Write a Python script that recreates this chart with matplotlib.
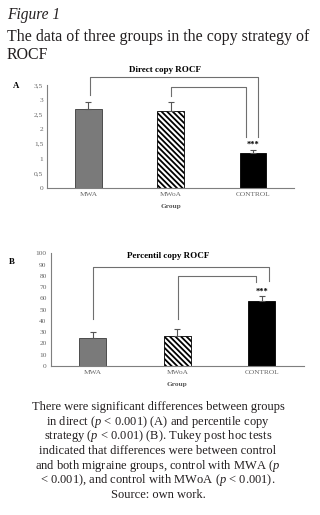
import matplotlib
matplotlib.use("Agg")
import matplotlib.pyplot as plt

groups = ["MWA", "MWoA", "CONTROL"]
direct_means = [2.70, 2.60, 1.20]
direct_err = [0.22, 0.31, 0.08]
perc_means = [25.2, 26.3, 58.0]
perc_err = [4.8, 6.3, 4.5]

y_ticks_a = [0, 0.5, 1, 1.5, 2, 2.5, 3, 3.5]
y_ticks_b = [0, 10, 20, 30, 40, 50, 60, 70, 80, 90, 100]

# brackets: (x_left, y_left_bottom, y_top, x_right, y_right_bottom)
brackets_a = [(0.02, 3.16, 3.77, 2.065, 1.74), (1.0, 3.13, 3.42, 1.915, 1.74)]
brackets_b = [(0.0, 41.7, 87.6, 2.09, 75.7), (1.01, 41.7, 79.9, 1.93, 74.3)]
star_a = 1.48
star_b = 65.5

SERIF = ["Liberation Serif", "DejaVu Serif"]
plt.rcParams["font.family"] = SERIF
plt.rcParams["mathtext.fontset"] = "custom"
plt.rcParams["mathtext.rm"] = "Liberation Serif"
plt.rcParams["mathtext.it"] = "Liberation Serif:italic"
plt.rcParams["hatch.linewidth"] = 1.3

fig = plt.figure(figsize=(3.2, 5.15), dpi=100)
W, H = 320, 515

def add_ax(x0, x1, ytop, ybot):
    return fig.add_axes([x0 / W, (H - ybot) / H, (x1 - x0) / W, (ybot - ytop) / H])

tick_col = "#595959"
colors = ["#7a7a7a", "white", "black"]
hatches = [None, "\\\\\\\\\\\\", None]

def draw(ax, means, errs, yt, ylim, fmt, brackets, star_y):
    x = list(range(len(groups)))
    for i in x:
        ax.bar(i, means[i], width=0.32, color=colors[i], edgecolor="#3a3a3a" if i == 0 else "black",
               linewidth=0.6, hatch=hatches[i], zorder=2)
    ax.errorbar(x, means, yerr=[[0] * len(errs), errs], fmt="none", ecolor="#555555",
                elinewidth=0.8, capsize=2, capthick=0.8, zorder=3)
    ax.set_xlim(-0.5, 2.5)
    ax.set_ylim(*ylim)
    ax.set_yticks(yt)
    ax.set_yticklabels([fmt(v) for v in yt])
    ax.set_xticks(x)
    ax.set_xticklabels(groups)
    ax.tick_params(length=0, labelsize=5.3, colors="#666666", pad=3)
    for s in ["top", "right"]:
        ax.spines[s].set_visible(False)
    for s in ["left", "bottom"]:
        ax.spines[s].set_color("#7f7f7f")
        ax.spines[s].set_linewidth(0.8)
    ax.set_xlabel("Group", fontsize=5.3, fontweight="bold", color=tick_col, labelpad=5)
    for (xl, yl, yt_, xr, yr) in brackets:
        ax.plot([xl, xl, xr, xr], [yl, yt_, yt_, yr], color="#6f6f6f", lw=0.8,
                clip_on=False, zorder=1)
    ax.text(2, star_y, "***", ha="center", va="center", fontsize=6, fontweight="bold",
            color="black")
    return ax

def fmt_a(v):
    return ("%g" % v).replace(".", ",")

axA = add_ax(47.3, 294, 85, 188)
draw(axA, direct_means, direct_err, y_ticks_a, (0, 3.5), fmt_a, brackets_a, star_a)
axB = add_ax(50.7, 304, 253.3, 366)
draw(axB, perc_means, perc_err, y_ticks_b, (0, 100), lambda v: "%d" % v, brackets_b, star_b)

# chart titles and panel labels
fig.text(165 / W, 1 - 70 / H, "Direct copy ROCF", ha="center", va="center", fontsize=6.5, fontweight="bold")
fig.text(168 / W, 1 - 256 / H, "Percentil copy ROCF", ha="center", va="center", fontsize=6.5, fontweight="bold")
fig.text(16 / W, 1 - 86 / H, "A", ha="center", va="center", fontsize=6.3, fontweight="bold")
fig.text(12 / W, 1 - 262 / H, "B", ha="center", va="center", fontsize=6.3, fontweight="bold")

# header
fig.text(7 / W, 1 - 15 / H, "Figure 1", ha="left", va="center", fontsize=11.2, style="italic", color="#231f20")
fig.text(7 / W, 1 - 37 / H, "The data of three groups in the copy strategy of", ha="left", va="center",
         fontsize=11.4, color="#231f20")
fig.text(7 / W, 1 - 55 / H, "ROCF", ha="left", va="center", fontsize=11.4, color="#231f20")

caption = [
    "There were significant differences between groups",
    "in direct ($\\it{p}$ < 0.001) (A) and percentile copy",
    "strategy ($\\it{p}$ < 0.001) (B). Tukey post hoc tests",
    "indicated that differences were between control",
    "and both migraine groups, control with MWA ($\\it{p}$",
    "< 0.001), and control with MWoA ($\\it{p}$ < 0.001).",
    "Source: own work.",
]
for i, line in enumerate(caption):
    fig.text(158 / W, 1 - (407 + i * 14.7) / H, line, ha="center", va="center", fontsize=9.0,
             color="#231f20")

fig.savefig("out.png", dpi=100)
